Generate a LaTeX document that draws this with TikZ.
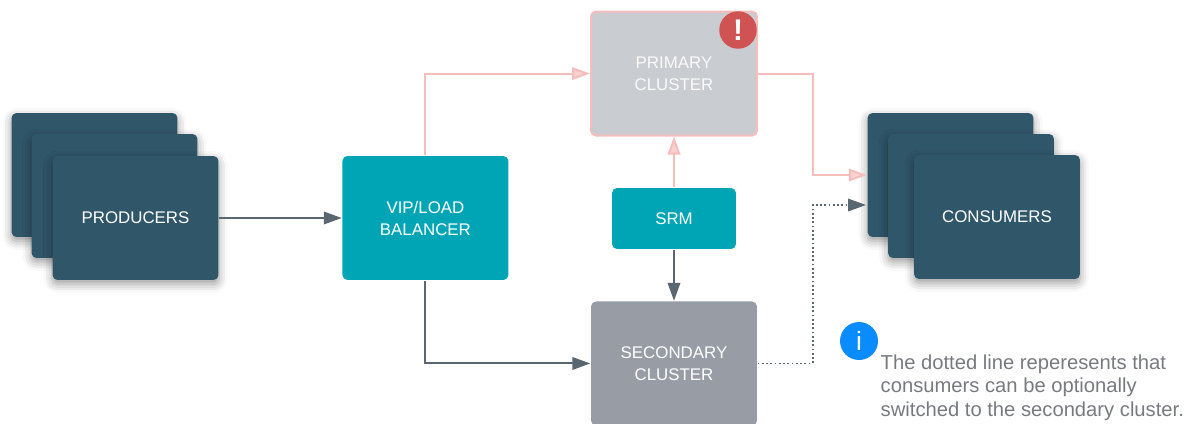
\documentclass[tikz,border=0pt]{standalone}
\usepackage{fontspec}
\setmainfont{Liberation Sans}
\usetikzlibrary{arrows.meta, shadows.blur}
\definecolor{deep}{HTML}{30566A}
\definecolor{teal}{HTML}{00A5B5}
\definecolor{pale}{HTML}{C9CCD0}
\definecolor{blush}{HTML}{F6BDBD}
\definecolor{slate}{HTML}{989CA5}
\definecolor{wire}{HTML}{5A6670}
\definecolor{alarm}{HTML}{D05353}
\definecolor{hint}{HTML}{0A8CFF}
\definecolor{notegray}{HTML}{787A7E}

\begin{document}
\begin{tikzpicture}[x=0.02cm,y=-0.02cm,>={Triangle[length=0.36cm,width=0.25cm]},thick,
  box/.style={rectangle,rounded corners=0.1cm,minimum width=3.32cm,minimum height=2.48cm,
    inner sep=0pt,align=center,text=white,font=\fontsize{9.6}{12.5}\selectfont},
  stack node/.style={box,fill=deep,blur shadow={shadow xshift=0cm,shadow yshift=-0.08cm,
    shadow blur radius=0.18cm,shadow opacity=40}},
  main node/.style={box,fill=teal},
  live/.style={->,wire,line width=0.04cm},
  failed/.style={-{Triangle[length=0.36cm,width=0.25cm,fill=blush!70!white]},blush,line width=0.04cm},
  mark node/.style={circle,minimum size=0.75cm,inner sep=0pt,text=white}]

  \useasboundingbox (0,0) rectangle (1186,423);

  % producers
  \node[stack node] (prod1) at (94.5,175) {};
  \node[stack node] (prod2) at (114.5,196) {};
  \node[stack node] (prod3) at (135.5,218) {PRODUCERS};

  \node[main node] (vip) [right of=prod3, node distance=5.8cm] {VIP/LOAD\\BALANCER};
  \node[main node, minimum width=2.48cm, minimum height=1.22cm] (srm) at (674,218.5) {SRM};
  \node[box, fill=pale, draw=blush, line width=0.04cm, text=white!90!pale] (primary) [above of=srm, node distance=2.9cm] {PRIMARY\\CLUSTER};
  \node[box, fill=slate] (secondary) [below of=srm, node distance=2.9cm] {SECONDARY\\CLUSTER};

  % consumers
  \node[stack node] (cons1) at (950.5,175) {};
  \node[stack node] (cons2) at (971,196) {};
  \node[stack node] (cons3) at (997,217) {CONSUMERS};

  \node[mark node, fill=alarm, font=\bfseries\fontsize{17}{17}\selectfont] (alert) at (738,30) {!};
  \node[mark node, fill=hint, minimum size=0.76cm, font=\fontsize{15}{15}\selectfont] (info) at (859,341) {i};
  \node[anchor=north west, inner sep=0pt, align=left, text=notegray,
    font=\fontsize{11.5}{13.4}\selectfont] (note) at (880,354)
    {The dotted line reperesents that\\consumers can be optionally\\switched to the secondary cluster.};

  \coordinate (dotin) at (866,205);

  \draw[live] (prod3) -- (vip);
  \draw[live] (vip.south) |- (secondary.west);
  \draw[live] (srm) -- (secondary);
  \draw[failed] (vip.north) |- (primary.west);
  \draw[failed] (srm) -- (primary);
  \draw[failed] (primary.east) -- ++(55,0) |- (cons1.west);
  \draw[->,wire,line width=0.035cm,dash pattern=on 0.035cm off 0.05cm] (secondary.east) -- ++(55,0) |- (dotin);
\end{tikzpicture}
\end{document}
